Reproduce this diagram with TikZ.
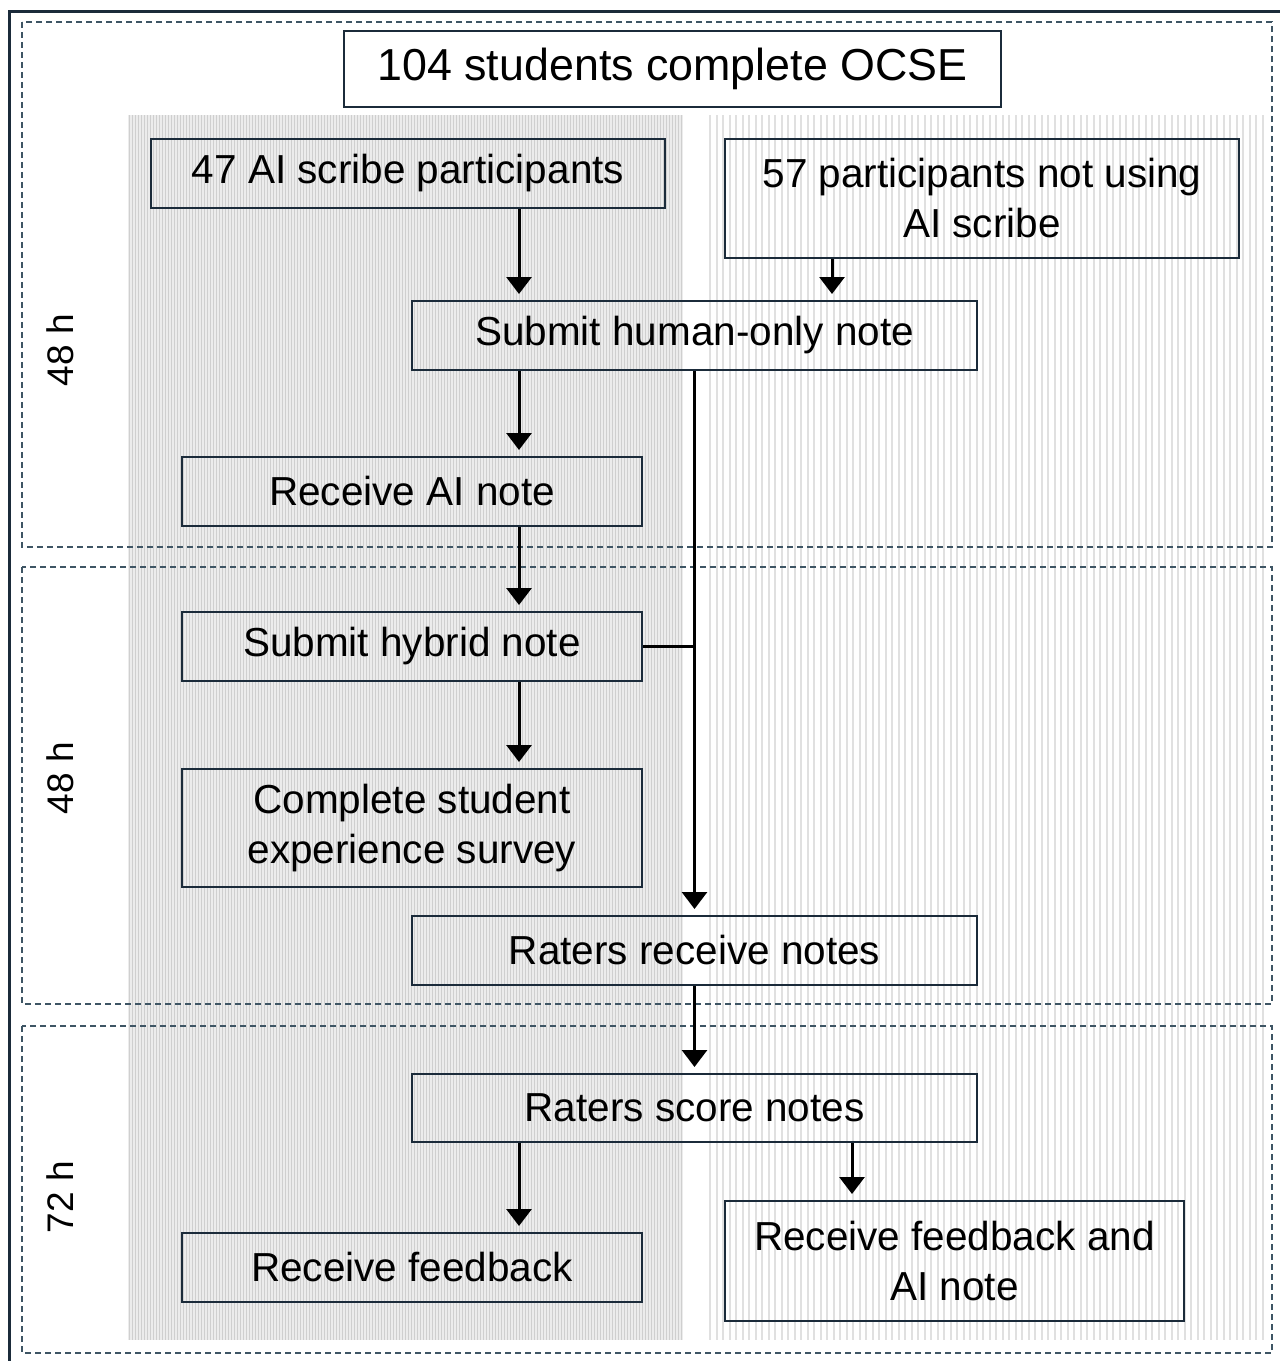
\documentclass[tikz,border=0pt]{standalone}
\usepackage{fontspec}
\setmainfont{Liberation Sans}
\usetikzlibrary{arrows.meta}
\definecolor{framenavy}{HTML}{1B2B3A}
\definecolor{dashgray}{HTML}{3E5564}

\begin{document}
\begin{tikzpicture}[x=1pt, y=-1pt,
    box/.style={draw=framenavy, line width=2pt, minimum height=69pt, align=center, inner sep=0pt, font=\fontsize{40.5}{50}\selectfont},
    flow/.style={line width=3pt, -{Triangle[width=25pt,length=17pt]}, shorten >=6pt},
    phase/.style={draw=dashgray, line width=2pt, dash pattern=on 6pt off 4pt},
    hours/.style={rotate=90, font=\fontsize{37}{40}\selectfont}]
    \useasboundingbox (0,0) rectangle (1280,1361);

    % striped columns
    \fill[gray!15] (128,115) rectangle (683,1340);
    \foreach \x in {129,132,...,682}
        \draw[gray!38, line width=1pt] (\x,115) -- (\x,1340);
    \foreach \x in {710,716.5,...,1266}
        \draw[gray!24, line width=2pt] (\x,115) -- (\x,1340);

    % frame and phases
    \draw[framenavy, line width=3pt] (1280,11) -- (9,11) -- (9,1361);
    \draw[phase] (22,22) rectangle (1272,547);
    \draw[phase] (22,567) rectangle (1272,1004);
    \draw[phase] (22,1026) rectangle (1272,1353);
    \node[hours] (h1) at (60,350) {48 h};
    \node[hours] (h2) at (60,778) {48 h};
    \node[hours] (h3) at (60,1197) {72 h};

    % steps
    \node[box, minimum width=657pt, minimum height=76pt, font=\fontsize{44.8}{50}\selectfont] (top) at (672.5,69) {104 students complete OCSE};
    \node[box, minimum width=514pt] (ai) at (408,173.5) {47 AI scribe participants};
    \node[box, minimum width=514pt, minimum height=119pt] (noai) at (982,198.5) {57 participants not using\\AI scribe};
    \node[box, minimum width=565pt] (human) at (694.5,335.5) {Submit human-only note};
    \node[box, minimum width=460pt] (ainote) at (412,491.5) {Receive AI note};
    \node[box, minimum width=460pt] (hybrid) at (412,646.5) {Submit hybrid note};
    \node[box, minimum width=460pt, minimum height=118pt] (survey) at (412,828) {Complete student\\experience survey};
    \node[box, minimum width=565pt] (receive) at (694.5,950.5) {Raters receive notes};
    \node[box, minimum width=565pt, minimum height=68pt] (score) at (694.5,1108) {Raters score notes};
    \node[box, minimum width=460pt] (feedback) at (412,1267.5) {Receive feedback};
    \node[box, minimum width=459pt, minimum height=120pt] (feedbackai) at (954.5,1261) {Receive feedback and\\AI note};

    % lanes for the arrows
    \coordinate (laneA) at (519,0);
    \coordinate (laneB) at (832,0);
    \coordinate (laneC) at (852,0);

    \draw[flow] (ai.south -| laneA) -- (human.north -| laneA);
    \draw[flow] (noai.south -| laneB) -- (human.north -| laneB);
    \draw[flow] (human.south -| laneA) -- (ainote.north -| laneA);
    \draw[flow] (ainote.south -| laneA) -- (hybrid.north -| laneA);
    \draw[flow] (hybrid.south -| laneA) -- (survey.north -| laneA);
    \draw[flow] (human.south) -- (receive.north);
    \draw[line width=3pt] (hybrid.east) -- (hybrid.east -| human.south);
    \draw[flow] (receive.south) -- (score.north);
    \draw[flow] (score.south -| laneA) -- (feedback.north -| laneA);
    \draw[flow] (score.south -| laneC) -- (feedbackai.north -| laneC);
\end{tikzpicture}
\end{document}
